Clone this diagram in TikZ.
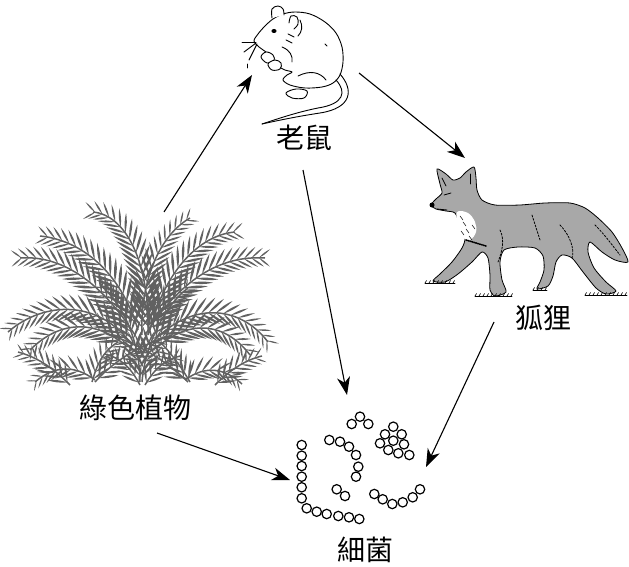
\documentclass[tikz,border=0pt]{standalone}
\usepackage{fontspec}
\newfontfamily\cjk{Noto Sans CJK TC}
\usetikzlibrary{arrows.meta,decorations.markings}
\definecolor{leafc}{HTML}{616161}
\definecolor{foxc}{HTML}{A8A8A8}
\newcommand\myleaflet[1]{%
  \pgfmathsetmacro\ffr{\pgfkeysvalueof{/pgf/decoration/mark info/distance from start}/\pgfdecoratedpathlength}%
  \pgfmathsetmacro\LL{#1*(1-0.5*\ffr*\ffr)}%
  \fill[leafc] (0,0) to[bend left=11] (38:\LL) to[bend left=11] (0,0);
  \fill[leafc] (0,0) to[bend right=11] (-38:\LL) to[bend right=11] (0,0);
}
\tikzset{
 lab/.style={font=\cjk\fontsize{28}{30}\selectfont, inner sep=0pt},
 arr/.style={line width=1.1pt, -{Stealth[length=18pt,width=13pt,inset=5.5pt]}},
 germ/.style={draw, line width=1.2pt, fill=white},
 frond/.style={draw=leafc, line width=1.5pt, postaction={decorate},
   decoration={markings, mark=between positions 0.06 and 0.99 step 7.5pt with {\myleaflet{#1}}}},
 mline/.style={line width=0.9pt, line join=round, line cap=round},
 foxline/.style={line width=0.8pt, line join=round, line cap=round},
}
\begin{document}
\begin{tikzpicture}[x=1pt,y=-1pt]
\useasboundingbox (0,0) rectangle (629,567);

% ---------------- plant ----------------
\draw[frond=24] (132,345) .. controls (100,300) and (45,300) .. (8,332);
\draw[frond=24] (150,345) .. controls (190,300) and (240,305) .. (268,342);
\draw[frond=26] (135,335) .. controls (100,280) and (60,255) .. (20,258);
\draw[frond=26] (145,335) .. controls (180,280) and (220,255) .. (265,258);
\draw[frond=26] (138,330) .. controls (120,270) and (80,240) .. (40,236);
\draw[frond=26] (150,330) .. controls (165,270) and (200,235) .. (235,232);
\draw[frond=27] (148,335) .. controls (150,260) and (125,215) .. (93,212);
\draw[frond=24] (142,335) .. controls (140,280) and (160,235) .. (190,218);
\draw[frond=24] (125,345) .. controls (95,320) and (60,320) .. (30,350);
\draw[frond=24] (160,345) .. controls (190,320) and (225,322) .. (250,355);
\draw[frond=22] (140,382) .. controls (140,345) and (125,305) .. (100,285);
\draw[frond=22] (142,382) .. controls (145,345) and (165,305) .. (188,288);
\draw[frond=20] (95,382) .. controls (115,360) and (140,345) .. (172,335);
\draw[frond=20] (188,382) .. controls (165,360) and (140,345) .. (110,335);
\draw[frond=20] (70,385) .. controls (55,370) and (40,358) .. (18,352);
\draw[frond=20] (215,385) .. controls (230,370) and (245,360) .. (262,356);
\draw[frond=20] (95,380) .. controls (75,365) and (55,365) .. (35,382);
\draw[frond=20] (92,382) .. controls (97,365) and (102,352) .. (118,342);
\draw[frond=20] (185,380) .. controls (205,365) and (225,368) .. (242,384);
\draw[frond=20] (190,382) .. controls (180,365) and (170,352) .. (160,342);
\draw[frond=18] (140,385) .. controls (130,366) and (120,358) .. (105,354);
\draw[frond=18] (145,385) .. controls (155,368) and (165,360) .. (180,356);

% ---------------- mouse ----------------
\draw[mline, fill=white] plot[smooth cycle, tension=0.55] coordinates {
 (254,41) (258,34) (265,26) (273,19) (283,14) (295,12) (310,14) (325,22)
 (336,33) (342,47) (343,62) (340,75) (333,83) (322,87) (305,88) (290,85)
 (283,80) (287,75) (292,72) (285,70) (278,66) (272,58) (266,52) (259,47)};
\draw[mline, fill=white] plot[smooth, tension=0.6] coordinates {(272,18) (272,9) (278,6) (283,9) (284,15)};
\draw[mline, fill=white] plot[smooth, tension=0.6] coordinates {(289,23) (291,16) (297,17) (298,24) (294,29)};
\fill (274,31) ellipse[x radius=2.6, y radius=2];
\draw[mline, fill=white] plot[smooth cycle, tension=0.6] coordinates {(261,57) (266,52) (273,55) (274,61) (267,63)};
\draw[mline, fill=white] plot[smooth cycle, tension=0.6] coordinates {(268,64) (275,60) (281,63) (280,69) (272,70)};
\draw[mline, fill=white] plot[smooth cycle, tension=0.6] coordinates {(286,93) (296,89) (307,91) (304,98) (292,98)};
\draw[mline] (298,76) .. controls (310,70) and (320,72) .. (326,80);
\draw[mline] (282,47) .. controls (290,50) and (293,56) .. (292,62);
\draw[mline] (300,20) .. controls (303,26) and (302,32) .. (298,36);
\draw[mline] (286,40) -- (292,43);
\draw[mline] (288,34) -- (294,37);
\draw[mline] (325,44) -- (327,46);
\draw[mline] (256,42) -- (242,42);
\draw[mline] (256,43) -- (244,52);
\draw[mline] (257,44) -- (249,60);
\draw[mline] (247,64) -- (247,68);
\draw[mline] (340,74) .. controls (354,90) and (352,108) .. (320,113) .. controls (300,116) and (280,120) .. (262,124);
\draw[mline] (336,80) .. controls (347,92) and (344,104) .. (318,108) .. controls (298,112) and (280,118) .. (262,124);

% ---------------- fox ----------------
\draw[foxline, fill=foxc] plot[smooth cycle, tension=0.45] coordinates {
 (431,205) (436,199) (442,193) (440,184) (437,169) (446,174) (453,180) (460,178)
 (466,172) (474,167) (476,178) (477,190) (482,200) (495,205) (520,205) (545,203)
 (570,203) (585,208) (598,218) (612,232) (622,248) (628,262) (615,260) (602,252)
 (590,242) (588,252) (594,268) (606,282) (616,291) (606,294) (596,288) (583,272)
 (572,258) (562,255) (556,262) (553,276) (548,286) (537,289) (540,282) (544,270)
 (543,256) (535,248) (518,247) (504,250) (500,262) (502,280) (506,292) (495,296)
 (490,290) (490,275) (488,258) (482,252) (472,262) (458,274) (445,282) (433,281)
 (440,274) (452,262) (462,248) (465,238) (460,225) (455,213) (446,211) (436,209)};
\fill[white] plot[smooth cycle, tension=0.6] coordinates {(457,212) (468,213) (475,222) (476,232) (470,240) (462,237) (458,226)};
\foreach \a/\b in {460/216, 463/222, 466/229, 461/231, 469/236, 472/225}
  \draw[foxline, line width=0.5pt] (\a,\b) -- ++(3,4);
\draw[foxline, line width=1.6pt, dash pattern=on 1pt off 1pt] (466,240) -- (486,246);
\fill (432,205) circle[radius=2.5];
\draw[foxline] (444,195) -- (451,193);
\draw[foxline] (442,178) -- (446,186);
\draw[foxline] (470,174) -- (470,184);
\draw[foxline] (437,209) -- (447,210);
\draw[foxline, dash pattern=on 2pt off 1.5pt] (500,230) .. controls (505,240) and (502,252) .. (498,262);
\draw[foxline, dash pattern=on 2pt off 1.5pt] (560,225) .. controls (570,235) and (575,250) .. (572,258);
\draw[foxline, dash pattern=on 2pt off 1.5pt] (595,225) .. controls (605,235) and (612,245) .. (620,255);
\draw[foxline, dash pattern=on 2pt off 1.5pt] (532,215) -- (540,240);
\foreach \x/\y/\w in {425/283/30, 475/296/37, 533/290/14, 585/295/42}{
  \draw[foxline, line width=0.6pt] (\x,\y) -- ++(\w,0);
  \foreach \k in {0,4,...,\w} \draw[foxline, line width=0.6pt] (\x+\k,\y) -- ++(1.5,-2.5);
}

% ---------------- bacteria ----------------
\foreach \x/\y in {
 301.7/445, 301.7/455.7, 301.7/466, 301.7/476.7, 301.7/487.3, 301.7/498.3,
 306.7/508.3, 316.7/511.7, 326.7/514, 338.3/516, 349/517.3, 359.3/519,
 329.3/440, 340/441.7, 349/446.7, 356/455, 358.3/466.7, 356/476.7,
 360/416.7, 351.7/424, 368.3/424,
 336.7/489.3, 345/496,
 393.3/426.7, 385/434.3, 401.7/434.3, 380/443.3, 393.3/440.7, 404/444.3, 388.3/450, 398.3/453.3, 409.3/455,
 374.3/494, 382.7/499.3, 392.3/504, 402.7/502.3, 412.7/497.3, 420/489.3}
  \draw[germ] (\x,\y) circle[radius=4.7];

% ---------------- labels ----------------
\node[lab] (mouseL) at (304,137.5) {老鼠};
\node[lab] (foxL) at (543,317.5) {狐狸};
\node[lab] (plantL) at (135,407.5) {綠色植物};
\node[lab] (bactL) at (365.5,550) {細菌};

% ---------------- connectors ----------------
\coordinate (plantTop) at (164,212);
\coordinate (mouseIn) at (252,75);
\coordinate (mouseOut) at (359,73);
\coordinate (foxIn) at (465,158);
\coordinate (mouseBot) at (303,170);
\coordinate (bactTop) at (347,395);
\coordinate (foxBot) at (494,322);
\coordinate (bactRight) at (426,467);
\coordinate (plantBot) at (157,433);
\coordinate (bactLeft) at (290,480);
\draw[arr] (plantTop) -- (mouseIn);
\draw[arr] (mouseOut) -- (foxIn);
\draw[arr] (mouseBot) -- (bactTop);
\draw[arr] (foxBot) -- (bactRight);
\draw[arr] (plantBot) -- (bactLeft);
\end{tikzpicture}
\end{document}
